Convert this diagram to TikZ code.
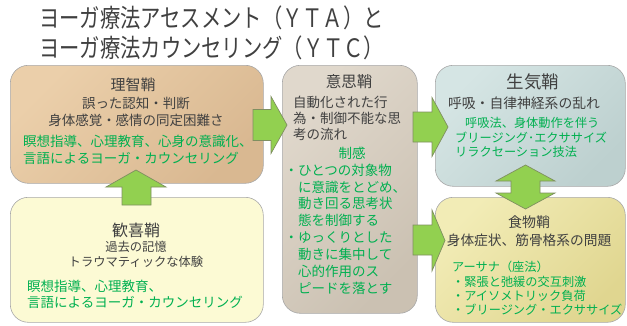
\documentclass[tikz,border=0pt]{standalone}
\usepackage{fontspec}
\usepackage{graphicx}
\setmainfont{Noto Sans CJK JP}
\definecolor{txt}{HTML}{404040}
\definecolor{grn}{HTML}{00B050}
\definecolor{arrf}{HTML}{92D050}
\definecolor{arrd}{HTML}{7F8F60}
\definecolor{bord}{HTML}{A8A8A8}
\definecolor{rtA}{HTML}{EBCFAA}
\definecolor{rtB}{HTML}{D9B891}
\definecolor{kk}{HTML}{FCFAD4}
\definecolor{isA}{HTML}{E0D8CC}
\definecolor{isB}{HTML}{CBC1B2}
\definecolor{skA}{HTML}{D5E5E4}
\definecolor{skB}{HTML}{BDD0CF}
\definecolor{shA}{HTML}{F2ECB6}
\definecolor{shB}{HTML}{E0D690}
\newcommand{\fsz}[2]{\fontsize{#1}{#2}\selectfont}
\tikzset{
  box/.style={draw=bord, line width=0.6pt, rounded corners=18pt, inner sep=0pt, anchor=north west},
  barrow/.style={fill=arrf, draw=arrd, line width=0.7pt, line join=miter},
  tx/.style={text=txt, inner sep=0pt},
  gt/.style={text=grn, inner sep=0pt},
}
\begin{document}
\begin{tikzpicture}[x=1pt,y=-1pt]
\useasboundingbox (0,0) rectangle (627,325);
% title
\node[tx, anchor=west, font=\fsz{20.3}{22.8}] (title) at (39,35.75)
  {\scalebox{1}[1.25]{\begin{tabular}{@{}l@{}}ヨーガ療法アセスメント（ＹＴＡ）と\\ヨーガ療法カウンセリング（ＹＴＣ）\end{tabular}}};
% boxes
\node[box, minimum width=253pt, minimum height=118pt, top color=rtA, bottom color=rtB, shading angle=45] (riti) at (10,65) {};
\node[box, minimum width=253pt, minimum height=125pt, fill=kk] (kanki) at (10,197) {};
\node[box, minimum width=135pt, minimum height=248pt, top color=isA, bottom color=isB, shading angle=45] (ishi) at (282,65) {};
\node[box, minimum width=190pt, minimum height=121pt, top color=skA, bottom color=skB, shading angle=45] (seiki) at (435,65) {};
\node[box, minimum width=190pt, minimum height=125pt, top color=shA, bottom color=shB, shading angle=45] (shoku) at (435,197) {};
% block arrows
\draw[barrow] (253,109.5) -- (271,109.5) -- (271,96.5) -- (287,125) -- (271,153.5) -- (271,140.5) -- (253,140.5) -- cycle;
\draw[barrow] (413,112) -- (432,112) -- (432,97.5) -- (448,127) -- (432,156.5) -- (432,142) -- (413,142) -- cycle;
\draw[barrow] (413,225) -- (432,225) -- (432,210) -- (445,240.5) -- (432,271) -- (432,255) -- (413,255) -- cycle;
\draw[barrow] (122,205) -- (122,187) -- (106,187) -- (136,170) -- (166,187) -- (151,187) -- (151,205) -- cycle;
\draw[barrow] (525.5,165) -- (555,181) -- (540,181) -- (540,193) -- (555,193) -- (525.5,209) -- (496,193) -- (511,193) -- (511,181) -- (496,181) -- cycle;
% texts: riti
\node[tx, font=\fsz{15}{18}] (t1) at (133,85) {理智鞘};
\node[tx, align=center, font=\fsz{13.5}{17}] (b1) at (136,111.5) {誤った認知・判断\\身体感覚・感情の同定困難さ};
\node[gt, anchor=west, align=left, font=\fsz{13.5}{17}] (g1) at (23,149.5) {瞑想指導、心理教育、心身の意識化、\\言語によるヨーガ・カウンセリング};
% kanki
\node[tx, font=\fsz{16}{19}] (t2) at (136,230) {歓喜鞘};
\node[tx, align=center, font=\fsz{12.3}{15}] (b2) at (136,254.5) {過去の記憶\\トラウマティックな体験};
\node[gt, anchor=west, align=left, font=\fsz{13.5}{15.5}] (g2) at (27,294.5) {瞑想指導、心理教育、\\言語によるヨーガ・カウンセリング};
% ishi
\node[tx, font=\fsz{15.5}{18}] (t3) at (349,82) {意思鞘};
\node[tx, anchor=west, align=left, font=\fsz{13.5}{16}] (b3) at (293,118) {自動化された行\\為・制御不能な思\\考の流れ};
\node[gt, font=\fsz{13.5}{16}] (h3) at (352,153) {制感};
\node[gt, anchor=west, align=left, font=\fsz{13.5}{16.86}] (g3) at (298,229)
  {\llap{・}ひとつの対象物\\に意識をとどめ、\\動き回る思考状\\態を制御する\\\llap{・}ゆっくりとした\\動きに集中して\\心的作用のス\\ピードを落とす};
% seiki
\node[tx, font=\fsz{17.5}{20}] (t4) at (533,82) {生気鞘};
\node[tx, font=\fsz{13.8}{16}] (b4) at (524,103) {呼吸・自律神経系の乱れ};
\node[gt, anchor=west, align=left, font=\fsz{12.2}{14.5}] (g4) at (455,137.5)
  {\hspace*{10pt}呼吸法、身体動作を伴う\\ブリージング･エクササイズ\\リラクセーション技法};
% shoku
\node[tx, font=\fsz{14}{17}] (t5) at (529,222) {食物鞘};
\node[tx, font=\fsz{13.7}{16}] (b5) at (529,240) {身体症状、筋骨格系の問題};
\node[gt, anchor=west, align=left, font=\fsz{12.2}{14.3}] (g5) at (452,288.5)
  {アーサナ（座法）\\・緊張と弛緩の交互刺激\\・アイソメトリック負荷\\・ブリージング・エクササイズ};
\end{tikzpicture}
\end{document}
